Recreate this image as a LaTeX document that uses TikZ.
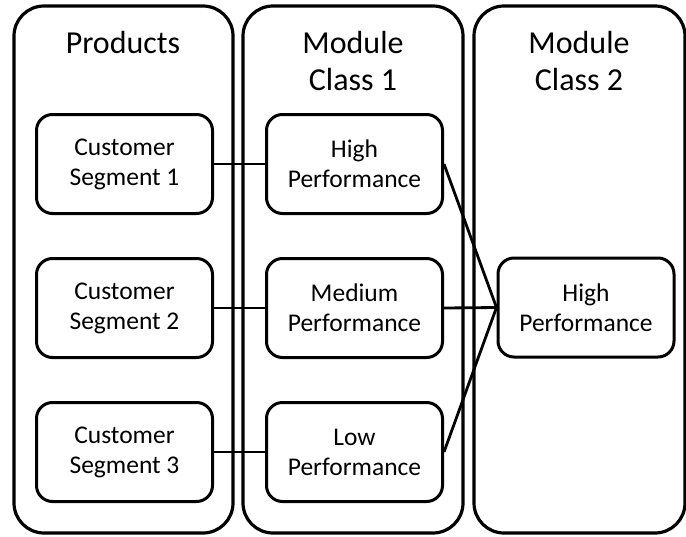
\documentclass[tikz,border=0pt]{standalone}
\usepackage{fontspec}
\setmainfont{Carlito}
\begin{document}
\begin{tikzpicture}[x=1pt,y=-1pt,
  col/.style={draw, line width=3.2pt, rounded corners=30pt, minimum height=527pt, inner sep=0pt},
  box/.style={draw, line width=3pt, rounded corners=16pt, minimum width=176pt, minimum height=99pt, align=center, inner sep=0pt, font=\fontsize{25.5}{30}\selectfont},
  ttl/.style={anchor=base, inner sep=0pt, font=\fontsize{32}{37}\selectfont},
  link/.style={line width=2.8pt}]
\useasboundingbox (0,0) rectangle (686,536);
\node[col, minimum width=219pt] (c1) at (123.5,269.5) {};
\node[col, minimum width=220pt] (c2) at (353,269.5) {};
\node[col, minimum width=211pt] (c3) at (579.5,269.5) {};
\node[ttl] (t1) at (123,53) {Products};
\node[ttl] (t2a) at (353,53) {Module};
\node[ttl] (t2b) at (353,90) {Class 1};
\node[ttl] (t3a) at (579,53) {Module};
\node[ttl] (t3b) at (579,90) {Class 2};
\node[box] (s1) at (124.5,164) {Customer\\Segment 1};
\node[box] (s2) at (124.5,308) {Customer\\Segment 2};
\node[box] (s3) at (124.5,452) {Customer\\Segment 3};
\node[box] (h1) at (354.5,164) {High\\Performance};
\node[box] (m1) at (354.5,308) {Medium\\Performance};
\node[box] (l1) at (354.5,452) {Low\\Performance};
\node[box] (h2) at (586,307.5) {High\\Performance};
\draw[link] (s1.east) -- (h1.west);
\draw[link] (s2.east) -- (m1.west);
\draw[link] (s3.east) -- (l1.west);
\draw[link] (h1.east) -- (h2.west);
\draw[link] (m1.east) -- (h2.west);
\draw[link] (l1.east) -- (h2.west);
\end{tikzpicture}
\end{document}
